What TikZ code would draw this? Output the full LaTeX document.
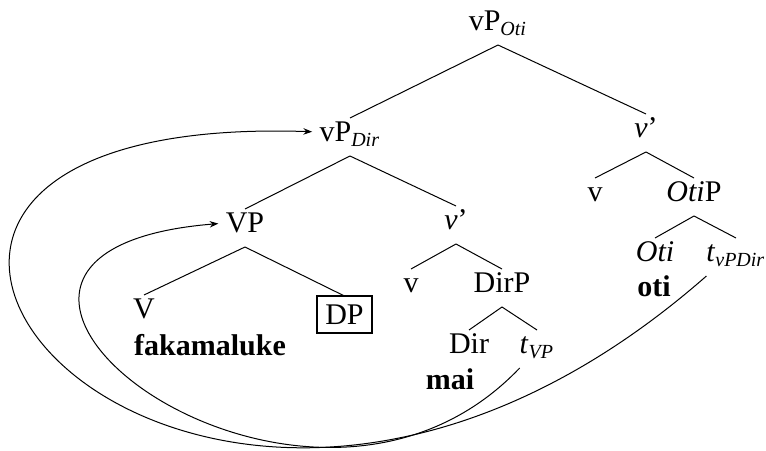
\documentclass[tikz,border=0pt]{standalone}
\usepackage{fontspec}
\setmainfont{Liberation Serif}
\usetikzlibrary{arrows.meta}

\tikzset{
  lbl/.style={anchor=base,inner sep=0pt,outer sep=0pt,text height=9.6pt,text depth=5.6pt},
  wrd/.style={anchor=base,inner sep=0pt,outer sep=0pt,font=\fontsize{12}{14}\selectfont\bfseries},
  boxed/.style={anchor=base,draw,line width=0.8pt,inner xsep=3.3pt,inner ysep=3pt,outer sep=0pt,text height=8.6pt,text depth=0.2pt},
  mv/.style={-{Stealth[length=3.5pt,width=2.6pt]},shorten >=3pt}
}

\begin{document}
\begin{tikzpicture}[x=0.4pt,y=-0.4pt,font=\fontsize{12}{14}\selectfont]
\useasboundingbox (0,0) rectangle (766,451);
% labels of the tree
\node[lbl] (vpoti) at (498,31) {vP\textsubscript{\textit{Oti}}};
\node[lbl] (vpdir) at (350,142) {vP\textsubscript{\textit{Dir}}};
\node[lbl] (vbaru) at (646,138) {\textit{v}'};
\node[lbl] (vu) at (595,202) {v};
\node[lbl] (otip) at (694,202) {\textit{Oti}P};
\node[lbl] (oti) at (655,262) {\textit{Oti}};
\node[lbl] (tvpdir) at (736,262) {\textit{t}\textsubscript{\textit{vPDir}}};
\node[wrd] (otiw) at (654,297) {oti};
\node[lbl] (vp) at (245,233) {VP};
\node[lbl] (vbarm) at (456,230) {\textit{v}'};
\node[lbl] (vh) at (144,319) {V};
\node[boxed] (dp) at (344.5,325) {DP};
\node[wrd] (faka) at (210,356) {fakamaluke};
\node[lbl] (vm) at (411,293) {v};
\node[lbl] (dirp) at (502,293) {DirP};
\node[lbl] (dir) at (469,354) {Dir};
\node[lbl] (tvp) at (537,354) {\textit{t}\textsubscript{\textit{VP}}};
\node[wrd] (mai) at (450,390) {mai};
% branches
\draw (vpoti.south) -- (vpdir.north);
\draw (vpoti.south) -- (vbaru.north);
\draw (vpdir.south) -- (vp.north);
\draw (vpdir.south) -- (vbarm.north);
\draw (vbaru.south) -- (vu.north);
\draw (vbaru.south) -- (otip.north);
\draw (otip.south) -- (oti.north);
\draw (otip.south) -- (tvpdir.north);
\draw (vp.south) -- (vh.north);
\draw (vp.south) -- (dp.north);
\draw (vbarm.south) -- (vm.north);
\draw (vbarm.south) -- (dirp.north);
\draw (dirp.south) -- (dir.north);
\draw (dirp.south) -- (tvp.north);
% movement
\draw[mv] (tvp.south west) .. controls +(-221,232) and +(-369,30) .. ([yshift=2pt]vp.west);
\draw[mv] (tvpdir.south west) .. controls +(-531,466) and +(-650,-22) .. ([yshift=2pt]vpdir.west);
\end{tikzpicture}
\end{document}
